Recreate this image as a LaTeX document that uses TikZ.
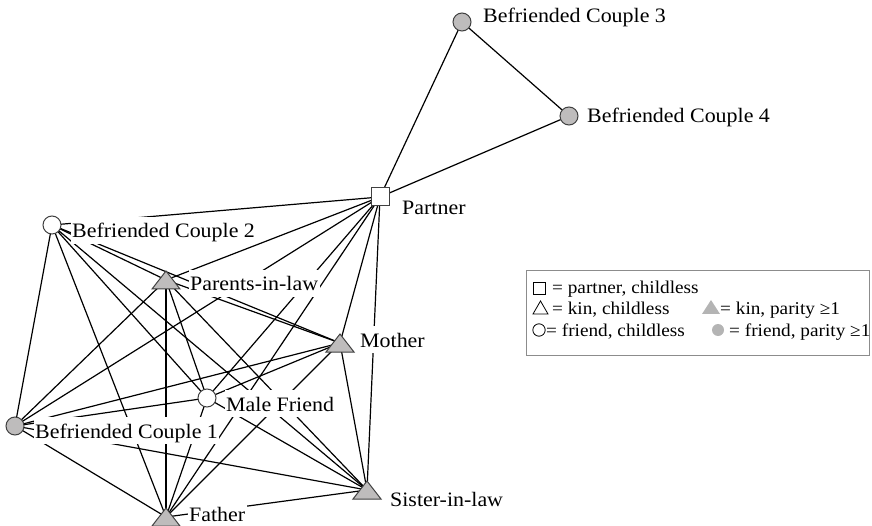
\documentclass[tikz,border=0pt]{standalone}
\usepackage{fontspec}
\setmainfont{Liberation Serif}[FakeStretch=1.07]
\pgfdeclarelayer{edgelayer}
\pgfsetlayers{edgelayer,main}
\definecolor{nodefill}{HTML}{BEBCBC}
\definecolor{nodeline}{HTML}{404040}
\definecolor{legfill}{HTML}{B4B4B4}
\definecolor{legline}{HTML}{8C8C8C}
\tikzset{
  netedge/.style={line width=1.2pt, black},
  lbl/.style={anchor=base west, fill=white, inner xsep=1.5pt, inner ysep=1pt,
    text height=20pt, text depth=5pt, font=\fontsize{20.5}{24}\selectfont},
  frnode/.style={circle, draw=nodeline, line width=1pt, minimum size=18pt, inner sep=0pt, fill=white},
  frpar/.style={frnode, fill=nodefill},
  ptnode/.style={rectangle, draw=nodeline, line width=1pt, minimum size=18pt, inner sep=0pt, fill=white},
  pics/kintri/.style={code={\draw[draw=nodeline, line width=1pt, fill=nodefill] (-14,9) -- (14,9) -- (0,-9) -- cycle;}},
  legtext/.style={anchor=base west, inner sep=0pt, font=\fontsize{18}{21}\selectfont},
  legsym/.style={line width=0.8pt, draw=black},
}
\begin{document}
\begin{tikzpicture}[x=1pt, y=-1pt]
\useasboundingbox (0,0) rectangle (872,526);
% node positions
\coordinate (p) at (380,197);
\coordinate (b3) at (462,22);
\coordinate (b4) at (569,116);
\coordinate (b2) at (52,225);
\coordinate (pil) at (166,280);
\coordinate (m) at (340,343);
\coordinate (mf) at (207,398);
\coordinate (b1) at (15,426);
\coordinate (s) at (367,490);
\coordinate (f) at (166,517);
% edges
\begin{pgfonlayer}{edgelayer}
\foreach \u/\v in {b3/b4, b3/p, b4/p,
  p/b1, p/b2, p/pil, p/m, p/mf, p/s, p/f,
  b1/b2, b1/pil, b1/m, b1/mf, b1/s, b1/f,
  b2/pil, b2/m, b2/mf, b2/s, b2/f,
  pil/m, pil/mf, pil/s, pil/f,
  m/mf, m/s, m/f,
  mf/s, mf/f,
  s/f}
  \draw[netedge] (\u) -- (\v);
\end{pgfonlayer}
% labels
\node[lbl] (lb3) at (481.5,23) {Befriended Couple 3};
\node[lbl] (lb4) at (585.5,123) {Befriended Couple 4};
\node[lbl] (lp) at (400.5,215) {Partner};
\node[lbl] (lb2) at (70.5,238) {Befriended Couple 2};
\node[lbl] (lpil) at (188.5,291) {Parents-in-law};
\node[lbl] (lm) at (358.5,347) {Mother};
\node[lbl] (lmf) at (224.5,411) {Male Friend};
\node[lbl] (lb1) at (33.5,438) {Befriended Couple 1};
\node[lbl] (ls) at (388.5,506) {Sister-in-law};
\node[lbl] (lf) at (187.5,521) {Father};
% node shapes
\node[ptnode] (pn) at (p) {};
\node[frpar] (b3n) at (b3) {};
\node[frpar] (b4n) at (b4) {};
\node[frnode] (b2n) at (b2) {};
\node[frnode] (mfn) at (mf) {};
\node[frpar] (b1n) at (b1) {};
\pic at (pil) {kintri};
\pic at (m) {kintri};
\pic at (s) {kintri};
\pic at (f) {kintri};
% legend
\node[draw=legline, line width=0.8pt, anchor=north west, minimum width=343pt, minimum height=85pt, inner sep=0pt] (legend) at (526,270) {};
\draw[legsym] (533,282) rectangle (545,294);
\node[legtext] (lg1) at (552,294) {= partner, childless};
\draw[legsym] (533,314) -- (548,314) -- (540.5,301) -- cycle;
\node[legtext] (lg2) at (552,315) {= kin, childless};
\fill[legfill] (702,314) -- (720,314) -- (711,300) -- cycle;
\node[legtext] (lg3) at (720,315) {= kin, parity ≥1};
\draw[legsym] (539,330) circle (6.2);
\node[legtext] (lg4) at (546,336) {= friend, childless};
\fill[legfill] (718,330) circle (6);
\node[legtext] (lg5) at (729,336) {= friend, parity ≥1};
\end{tikzpicture}
\end{document}
